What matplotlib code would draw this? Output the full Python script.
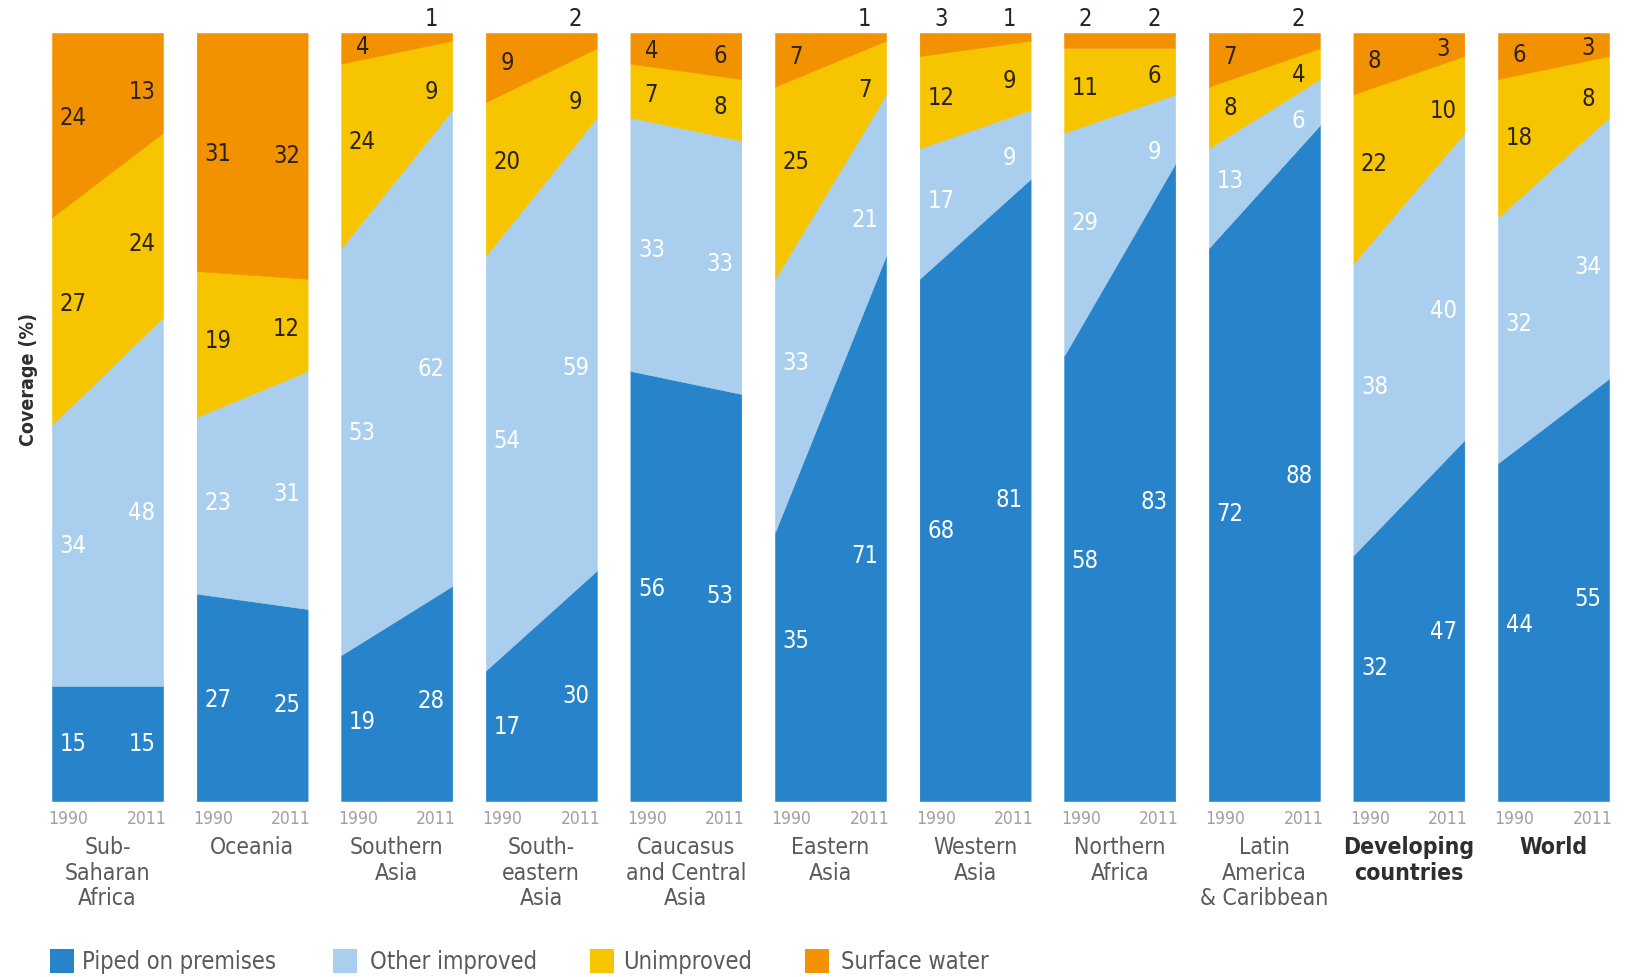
import matplotlib
matplotlib.use("Agg")
import matplotlib.pyplot as plt
from matplotlib.patches import Rectangle

regions = ["Sub-\nSaharan\nAfrica", "Oceania", "Southern\nAsia", "South-\neastern\nAsia",
           "Caucasus\nand Central\nAsia", "Eastern\nAsia", "Western\nAsia", "Northern\nAfrica",
           "Latin\nAmerica\n& Caribbean", "Developing\ncountries", "World"]
years = [1990, 2011]
categories = ["Piped on premises", "Other improved", "Unimproved", "Surface water"]

piped_1990 = [15, 27, 19, 17, 56, 35, 68, 58, 72, 32, 44]
piped_2011 = [15, 25, 28, 30, 53, 71, 81, 83, 88, 47, 55]
other_1990 = [34, 23, 53, 54, 33, 33, 17, 29, 13, 38, 32]
other_2011 = [48, 31, 62, 59, 33, 21, 9, 9, 6, 40, 34]
unimp_1990 = [27, 19, 24, 20, 7, 25, 12, 11, 8, 22, 18]
unimp_2011 = [24, 12, 9, 9, 8, 7, 9, 6, 4, 10, 8]
surf_1990 = [24, 31, 4, 9, 4, 7, 3, 2, 7, 8, 6]
surf_2011 = [13, 32, 1, 2, 6, 1, 1, 2, 2, 3, 3]

colors = ["#2784ca", "#aacfee", "#f6c500", "#f39200"]
label_colors = ["white", "white", "#2b2218", "#2b2218"]
bold_regions = {"Developing\ncountries", "World"}
# small top values printed above the panel instead of inside
above = {(2, 1), (3, 1), (5, 1), (6, 0), (6, 1), (7, 0), (7, 1), (8, 1)}

W, H = 1628, 978
fig = plt.figure(figsize=(W / 100, H / 100), dpi=100)
fig.patch.set_facecolor("white")

FONT = ["DejaVu Sans"]
left_px, right_px = 52, 1609
top_px, bot_px = 34, 802
n = len(regions)
pw = 111
gap = (right_px - left_px - n * pw) / (n - 1)

series_1990 = [piped_1990, other_1990, unimp_1990, surf_1990]
series_2011 = [piped_2011, other_2011, unimp_2011, surf_2011]
xf = [0.19, 0.81]

for i, reg in enumerate(regions):
    x0 = left_px + i * (pw + gap)
    ax = fig.add_axes([x0 / W, 1 - bot_px / H, pw / W, (bot_px - top_px) / H])
    ax.set_xlim(years[0], years[1])
    ax.set_ylim(0, 100)
    ax.axis("off")
    lo = [0.0, 0.0]
    for k in range(4):
        vals = [series_1990[k][i], series_2011[k][i]]
        hi = [lo[0] + vals[0], lo[1] + vals[1]]
        ax.fill_between(years, lo, hi, facecolor=colors[k], edgecolor=colors[k],
                        linewidth=0.4)
        for j in range(2):
            t = xf[j]
            xd = years[0] + t * (years[1] - years[0])
            ylo = lo[0] + t * (lo[1] - lo[0])
            yhi = hi[0] + t * (hi[1] - hi[0])
            if k == 3 and (i, j) in above:
                ax.text(xd, 102.0, str(vals[j]), ha="center", va="center",
                        fontsize=17, color="#2b2218", family=FONT,
                        fontstretch="condensed", clip_on=False)
            else:
                ax.text(xd, (ylo + yhi) / 2, str(vals[j]), ha="center", va="center",
                        fontsize=17, color=label_colors[k], family=FONT,
                        fontstretch="condensed")
        lo = hi
    # year labels
    ax.text(-0.03, -0.01, str(years[0]), transform=ax.transAxes, ha="left", va="top",
            fontsize=12.5, color="#a0a0a0", family=FONT, fontstretch="condensed")
    ax.text(1.03, -0.01, str(years[1]), transform=ax.transAxes, ha="right", va="top",
            fontsize=12.5, color="#a0a0a0", family=FONT, fontstretch="condensed")
    bold = reg in bold_regions
    fig.text((x0 + pw / 2) / W, 1 - 836 / H, reg, ha="center", va="top",
             fontsize=16.5, linespacing=1.15,
             color="#2e2e2e" if bold else "#5a5a5a",
             fontweight="bold" if bold else "normal",
             family=FONT, fontstretch="condensed")

fig.text(28 / W, 1 - 379 / H, "Coverage (%)", rotation=90, ha="center", va="center",
         fontsize=14, color="#2e2e2e", fontweight="bold", family=FONT,
         fontstretch="condensed")

# legend
leg_sq = [50, 333, 590, 805]
leg_tx = [82, 370, 623, 841]
yc = 962
for k in range(4):
    fig.patches.append(Rectangle((leg_sq[k] / W, (H - yc - 12) / H), 24 / W, 24 / H,
                                 transform=fig.transFigure, color=colors[k], linewidth=0))
    fig.text(leg_tx[k] / W, 1 - yc / H, categories[k], ha="left", va="center",
             fontsize=17, color="#5a5a5a", family=FONT, fontstretch="condensed")

fig.savefig("out.png", dpi=100, facecolor="white")
